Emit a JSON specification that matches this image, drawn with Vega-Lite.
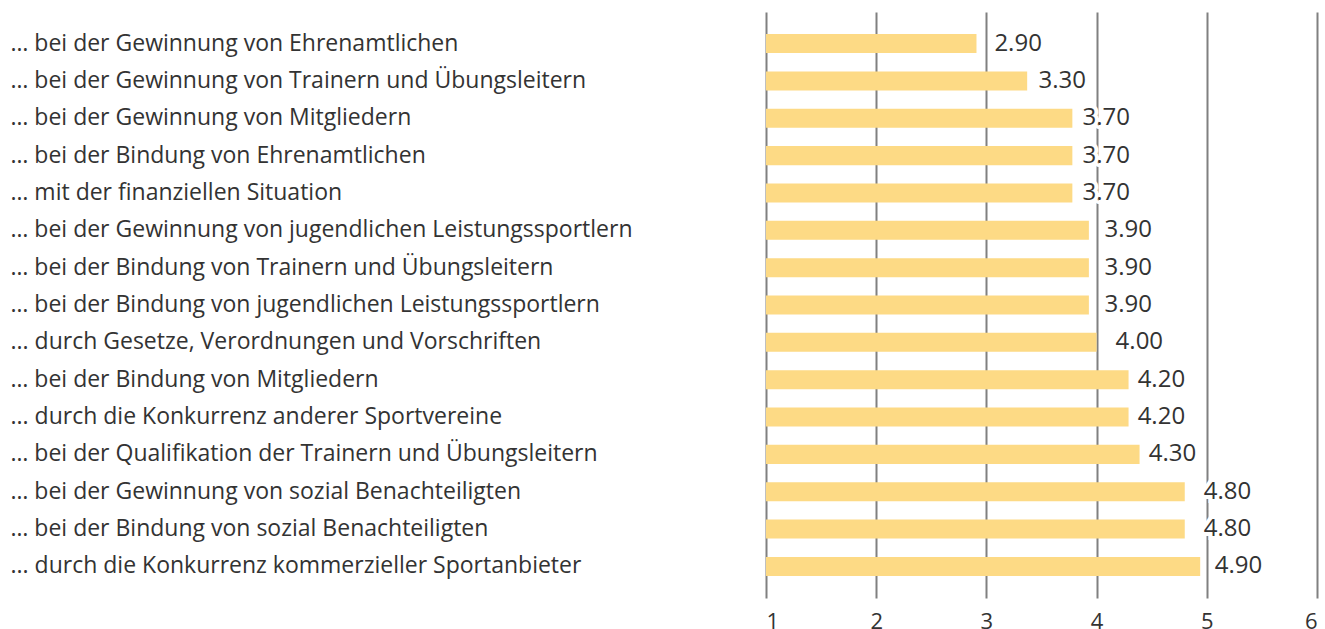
{
  "$schema": "https://vega.github.io/schema/vega-lite/v6.json",
  "autosize": {"type": "none"},
  "padding": {"left": 766, "top": 12, "right": 8, "bottom": 31},
  "width": 551,
  "height": 586,
  "background": "white",
  "config": {"view": {"stroke": null}, "font": "Open Sans"},
  "data": {"values": [
    {"label": "… bei der Gewinnung von Ehrenamtlichen", "value": 2.9, "bar": 2.91},
    {"label": "… bei der Gewinnung von Trainern und Übungsleitern", "value": 3.3, "bar": 3.37},
    {"label": "… bei der Gewinnung von Mitgliedern", "value": 3.7, "bar": 3.78},
    {"label": "… bei der Bindung von Ehrenamtlichen", "value": 3.7, "bar": 3.78},
    {"label": "… mit der finanziellen Situation", "value": 3.7, "bar": 3.78},
    {"label": "… bei der Gewinnung von jugendlichen Leistungssportlern", "value": 3.9, "bar": 3.93},
    {"label": "… bei der Bindung von Trainern und Übungsleitern", "value": 3.9, "bar": 3.93},
    {"label": "… bei der Bindung von jugendlichen Leistungssportlern", "value": 3.9, "bar": 3.93},
    {"label": "... durch Gesetze, Verordnungen und Vorschriften", "value": 4.0, "bar": 4.0},
    {"label": "… bei der Bindung von Mitgliedern", "value": 4.2, "bar": 4.29},
    {"label": "... durch die Konkurrenz anderer Sportvereine", "value": 4.2, "bar": 4.29},
    {"label": "… bei der Qualifikation der Trainern und Übungsleitern", "value": 4.3, "bar": 4.39},
    {"label": "… bei der Gewinnung von sozial Benachteiligten", "value": 4.8, "bar": 4.8},
    {"label": "… bei der Bindung von sozial Benachteiligten", "value": 4.8, "bar": 4.8},
    {"label": "... durch die Konkurrenz kommerzieller Sportanbieter", "value": 4.9, "bar": 4.94}
  ]},
  "encoding": {
    "y": {
      "field": "label", "type": "nominal", "sort": null, "title": null,
      "scale": {"paddingInner": 0.49, "paddingOuter": 0.59},
      "axis": {"orient": "left", "domain": false, "ticks": false, "tickSize": 0, "grid": false,
        "labelAlign": "left", "labelPadding": 756, "labelFontSize": 23, "labelColor": "#333333",
        "labelFont": "Open Sans", "labelLimit": 740}
    }
  },
  "layer": [
    {
      "mark": {"type": "bar", "color": "#FDDA85"},
      "encoding": {
        "x": {"field": "bar", "type": "quantitative", "title": null,
          "scale": {"domain": [1, 6], "nice": false, "zero": false},
          "axis": {"values": [1, 2, 3, 4, 5, 6], "domain": false, "ticks": false, "tickSize": 0,
            "grid": true, "gridColor": "#808080", "gridWidth": 2, "labelPadding": 13,
            "labelFontSize": 22, "labelColor": "#333333", "labelFont": "Open Sans", "format": "d"}
        },
        "x2": {"datum": 1}
      }
    },
    {
      "mark": {"type": "rule", "color": "#808080", "strokeWidth": 2, "opacity": 0.6},
      "encoding": {
        "x": {"datum": 1, "type": "quantitative"}
      }
    },
    {
      "mark": {"type": "text", "align": "left", "baseline": "middle", "dx": 19, "fontSize": 24,
        "font": "Open Sans", "color": "white", "stroke": "white", "strokeWidth": 8},
      "encoding": {
        "x": {"field": "value", "type": "quantitative"},
        "text": {"field": "value", "type": "quantitative", "format": ".2f"}
      }
    },
    {
      "mark": {"type": "text", "align": "left", "baseline": "middle", "dx": 19, "fontSize": 24,
        "font": "Open Sans", "color": "#333333"},
      "encoding": {
        "x": {"field": "value", "type": "quantitative"},
        "text": {"field": "value", "type": "quantitative", "format": ".2f"}
      }
    }
  ]
}
